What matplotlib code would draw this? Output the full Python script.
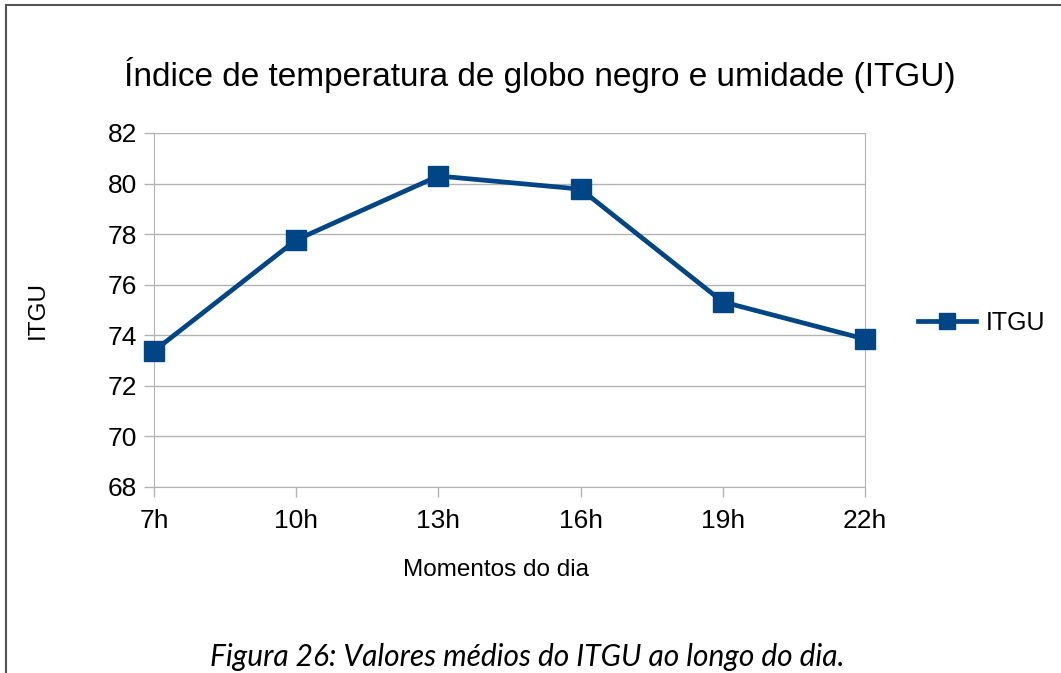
import numpy as np
import matplotlib.pyplot as plt
from matplotlib.lines import Line2D

moments = ["7h", "10h", "13h", "16h", "19h", "22h"]
itgu = [73.38, 77.77, 80.3, 79.78, 75.32, 73.85]
yticks = [68, 70, 72, 74, 76, 78, 80, 82]

blue = "#004586"
grid_c = "#b3b3b3"

plt.rcParams["font.family"] = ["Liberation Sans", "DejaVu Sans"]

fig = plt.figure(figsize=(10.61, 6.73), dpi=100)
W, H = 1061, 673
ax_l, ax_r, ax_t, ax_b = 154, 865, 133, 487
ax = fig.add_axes([ax_l / W, 1 - ax_b / H, (ax_r - ax_l) / W, (ax_b - ax_t) / H])

x = np.arange(len(moments))
ax.plot(x, itgu, color=blue, lw=3.4, marker="s", markersize=14,
        markeredgecolor=blue, label="ITGU", clip_on=False, zorder=3)

ax.set_xlim(0, len(moments) - 1)
ax.set_ylim(68, 82)
ax.set_yticks(yticks)
ax.set_xticks(x)
ax.set_xticklabels(moments)
ax.grid(axis="y", color=grid_c, lw=1)
for s in ax.spines.values():
    s.set_color(grid_c)
ax.spines["top"].set_visible(False)
ax.tick_params(axis="both", colors=grid_c, labelcolor="black", labelsize=19,
               length=7, width=1)
ax.tick_params(axis="x", pad=9)
ax.tick_params(axis="y", pad=5)

ax.set_xlabel("Momentos do dia", fontsize=17.5, va="center")
ax.xaxis.set_label_coords((496 - ax_l) / (ax_r - ax_l), -(570 - ax_b) / (ax_b - ax_t))
ax.set_ylabel("ITGU", fontsize=17.5, va="center")
ax.yaxis.set_label_coords(-(ax_l - 38) / (ax_r - ax_l), 0.5)

fig.text(540 / W, 1 - 75 / H, "Índice de temperatura de globo negro e umidade (ITGU)",
         ha="center", va="center", fontsize=24)

handle = Line2D([], [], color=blue, lw=3.4, marker="s", markersize=12)
fig.legend(handles=[handle], labels=["ITGU"], loc="center left",
           bbox_to_anchor=(918 / W, 1 - 323 / H), frameon=False, fontsize=18,
           handlelength=2.3, handletextpad=0.4, borderpad=0, borderaxespad=0)

fig.text(527 / W, 1 - 657 / H, "Figura 26: Valores médios do ITGU ao longo do dia.",
         ha="center", va="center", fontsize=21.5, style="italic",
         family=["Lato", "DejaVu Sans"])

# frame of the page
fig.add_artist(Line2D([6 / W, 6 / W], [0, 1 - 5 / H], color="#555555", lw=1.5))
fig.add_artist(Line2D([6 / W, 1], [1 - 5 / H, 1 - 5 / H], color="#555555", lw=1.5))

fig.savefig("out.png", dpi=100)
